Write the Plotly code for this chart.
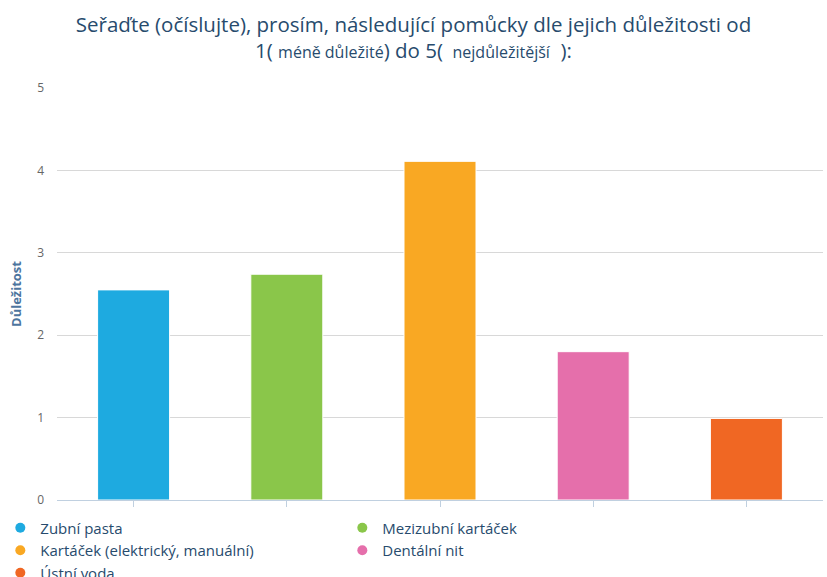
import plotly.graph_objects as go

# Ranking of dental hygiene aids (mean importance, 1 = less important, 5 = most important)
categories = ["Zubní pasta", "Mezizubní kartáček", "Kartáček (elektrický, manuální)",
              "Dentální nit", "Ústní voda"]
values = [2.55, 2.74, 4.11, 1.80, 0.99]
colors = ["#1eaae0", "#8ac64a", "#f9a823", "#e56fab", "#f06723"]
y_ticks = [0, 1, 2, 3, 4, 5]

FONT = "Open Sans"
TITLE_COLOR = "#274b6d"

fig = go.Figure()

fig.add_trace(go.Bar(
    x=categories,
    y=values,
    marker=dict(color=colors, line=dict(color="white", width=1)),
    width=0.47,
    showlegend=False,
    hoverinfo="x+y",
))

# Legend entries with round markers
for name, col in zip(categories, colors):
    fig.add_trace(go.Scatter(
        x=[None], y=[None], mode="markers", name=name,
        marker=dict(symbol="circle", size=10, color=col),
    ))

small = "<span style='font-size:16px'>"
title_text = ("Seřaďte (očíslujte), prosím, následující pomůcky dle jejich důležitosti od<br>"
              "1( " + small + "méně důležité</span>) do 5( " + small + " nejdůležitější</span>  ):")

fig.update_layout(
    width=827, height=577,
    margin=dict(l=57, r=4, t=88, b=77, autoexpand=False),
    paper_bgcolor="white", plot_bgcolor="white",
    font=dict(family=FONT, color="#666666"),
    title=dict(
        text=title_text,
        x=0.5, xanchor="center", xref="container",
        y=0.945, yanchor="top", yref="container",
        font=dict(family=FONT, size=20.5, color=TITLE_COLOR),
    ),
    xaxis=dict(
        type="category",
        showticklabels=False,
        ticks="outside", ticklen=6, tickcolor="#c0d0e0", tickwidth=1,
        showline=True, linecolor="#c0d0e0", linewidth=1,
        showgrid=False, zeroline=False,
    ),
    yaxis=dict(
        range=[0, 5],
        tickvals=y_ticks,
        ticktext=[str(v) for v in y_ticks],
        tickfont=dict(size=12, color="#666666"),
        showgrid=True, gridcolor="#d8d8d8", gridwidth=1,
        zeroline=False, showline=False,
        ticks="", ticklabelstandoff=12,
        title=dict(text="<b>Důležitost</b>", standoff=12,
                   font=dict(family=FONT, size=13, color="#4d759e")),
    ),
    legend=dict(
        orientation="h",
        x=-0.074, xanchor="left",
        y=-0.028, yanchor="top",
        entrywidth=297, entrywidthmode="pixels",
        font=dict(family=FONT, size=15, color=TITLE_COLOR),
        itemclick=False, itemdoubleclick=False,
        bgcolor="rgba(0,0,0,0)",
    ),
)

fig.write_html("out.html")
